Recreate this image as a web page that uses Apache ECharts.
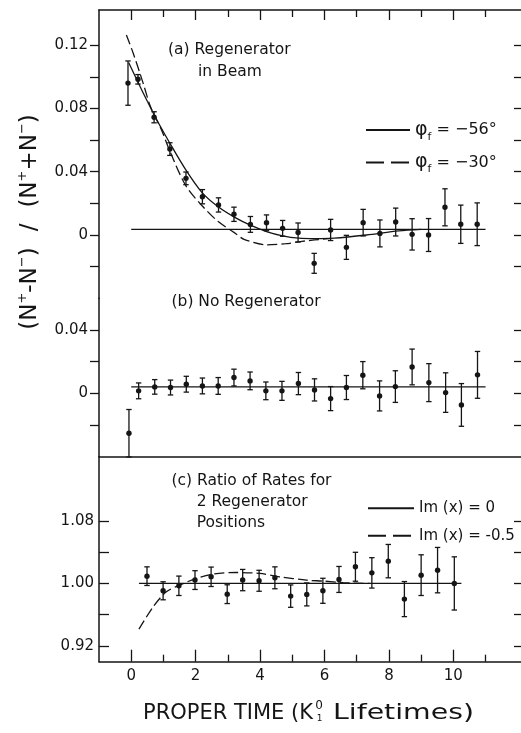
<!DOCTYPE html>
<html><head><meta charset="utf-8">
<script src="https://cdn.jsdelivr.net/npm/echarts@6/dist/echarts.min.js"></script>
<style>html,body{margin:0;padding:0;background:#fff}#c{width:521px;height:733px}</style>
</head><body><div id="c"></div>
<script>
// ---------- Panel (a): Regenerator in Beam ----------
const timeA = [-0.1,0.21,0.71,1.2,1.7,2.21,2.71,3.19,3.7,4.2,4.7,5.18,5.68,6.19,6.68,7.2,7.72,8.21,8.72,9.23,9.74,10.23,10.74];
const asymA = [0.096,0.0984,0.0744,0.0543,0.0358,0.0242,0.019,0.0131,0.0067,0.0077,0.0042,0.0016,-0.0179,0.0032,-0.0078,0.0078,0.001,0.0082,0.0004,0.0,0.0175,0.0068,0.0068];
const errA  = [0.014,0.003,0.0035,0.004,0.004,0.0045,0.0045,0.0045,0.005,0.005,0.005,0.006,0.0063,0.0067,0.0076,0.0084,0.0085,0.0088,0.0099,0.0104,0.0117,0.0121,0.0135];
const fit56T = [-0.08,0.2,0.5,0.8,1.2,1.7,2.2,2.7,3.2,3.7,4.2,4.7,5.2,5.7,6.3,7.3,8.3,9.0];
const fit56V = [0.109,0.097,0.0845,0.0725,0.058,0.041,0.0268,0.0178,0.0113,0.0062,0.0022,-0.0005,-0.002,-0.0023,-0.002,0.0,0.0026,0.0036];
const fit30T = [-0.15,0.06,0.37,0.6,0.94,1.2,1.7,2.2,2.7,3.2,3.5,4.2,4.8,5.3,6.2];
const fit30V = [0.1264,0.115,0.096,0.081,0.0664,0.053,0.031,0.0185,0.0085,0.0015,-0.0027,-0.0062,-0.0055,-0.004,-0.0021];
const baseAT = [0, 11];
const baseAV = [0.0036, 0.0036];
const legendA = ['φf = −56°', 'φf = −30°'];

// ---------- Panel (b): No Regenerator ----------
const timeB = [-0.07,0.23,0.73,1.22,1.71,2.21,2.7,3.19,3.69,4.18,4.68,5.19,5.69,6.19,6.68,7.19,7.71,8.2,8.72,9.24,9.76,10.25,10.75];
const asymB = [-0.0253,0.0015,0.004,0.0036,0.0057,0.0046,0.0046,0.0099,0.0078,0.0015,0.0015,0.0061,0.0021,-0.0034,0.0036,0.0114,-0.0017,0.0042,0.0166,0.0067,0.0004,-0.0074,0.0116];
const errB  = [0.015,0.005,0.0046,0.0047,0.005,0.005,0.0053,0.0053,0.0056,0.0056,0.006,0.007,0.007,0.0076,0.0076,0.0086,0.0095,0.01,0.0113,0.012,0.0125,0.0135,0.0148];
const baseBT = [0, 11];
const baseBV = [0.004, 0.004];

// ---------- Panel (c): Ratio of Rates for 2 Regenerator Positions ----------
const timeC  = [0.49,0.99,1.48,1.98,2.48,2.98,3.46,3.97,4.46,4.95,5.45,5.95,6.45,6.96,7.47,7.98,8.48,9.0,9.51,10.03];
const ratioC = [1.0093,0.9906,0.997,1.0043,1.0085,0.9863,1.0043,1.0034,1.0072,0.9838,0.986,0.9906,1.0051,1.0213,1.0135,1.0285,0.98,1.0106,1.017,1.0];
const errC   = [0.0119,0.0115,0.0124,0.012,0.0124,0.012,0.0136,0.0134,0.014,0.0143,0.0147,0.016,0.0166,0.0185,0.0194,0.0213,0.0224,0.026,0.029,0.034];
const baseCT = [0.24, 10.25];
const baseCV = [1.0, 1.0];
const fitC05T = [0.24,0.68,1.09,1.5,2.02,2.54,3.27,3.99,4.61,5.44,5.96,6.58,7.4];
const fitC05V = [0.9416,0.970,0.9893,0.9978,1.0064,1.0119,1.014,1.0128,1.0085,1.0042,1.003,1.001,1.0];
const legendC = ['Im (x) = 0', 'Im (x) = -0.5'];

// ---------- Axis ticks / labels ----------
const xMajor = [0,2,4,6,8,10];
const xMinor = [1,3,5,7,9,11];
const yTicksA = [-0.02,0,0.02,0.04,0.06,0.08,0.10,0.12];
const yLabelsA = [0,0.04,0.08,0.12];
const yTicksB = [-0.02,0,0.02,0.04];
const yLabelsB = [0,0.04];
const yTicksC = [0.92,0.96,1.00,1.04,1.08];
const yLabelsC = [0.92,1.00,1.08];

const INK = '#151515';
const FONT = 'DejaVu Sans';
const zip2 = (a, b) => a.map((v, i) => [v, b[i]]);
const zip3 = (a, b, c) => a.map((v, i) => [v, b[i], c[i]]);

function errRender(params, api) {
  const t = api.value(0), v = api.value(1), e = api.value(2);
  const p = api.coord([t, v]);
  const hi = api.coord([t, v + e]);
  const lo = api.coord([t, v - e]);
  const cap = 2.7;
  const st = { stroke: INK, lineWidth: 1.3 };
  return { type: 'group', children: [
    { type: 'line', shape: { x1: p[0], y1: hi[1], x2: p[0], y2: lo[1] }, style: st },
    { type: 'line', shape: { x1: p[0]-cap, y1: hi[1], x2: p[0]+cap, y2: hi[1] }, style: st },
    { type: 'line', shape: { x1: p[0]-cap, y1: lo[1], x2: p[0]+cap, y2: lo[1] }, style: st },
    { type: 'circle', shape: { cx: p[0], cy: p[1], r: 2.7 }, style: { fill: INK } }
  ]};
}

const L = 99, W = 422;
const frame = { color: INK, width: 1.5 };
function xAx(grid, pos, extra) {
  return Object.assign({
    type: 'value', gridIndex: grid, position: pos, min: -1, max: 12.1,
    splitLine: { show: false },
    axisLine: { show: false, onZero: false },
    axisTick: { show: false },
    axisLabel: { show: false }
  }, extra);
}
function yAx(grid, pos, min, max, extra) {
  return Object.assign({
    type: 'value', gridIndex: grid, position: pos, min: min, max: max,
    splitLine: { show: false },
    axisLine: { show: false, onZero: false },
    axisTick: { show: false },
    axisLabel: { show: false }
  }, extra);
}
const yFmt = v => (v === 0 ? '0' : v.toFixed(2));
const labStyle = { color: INK, fontFamily: FONT, fontSize: 15 };
const longDash = { type: [18, 7] };

const option = {
  animation: false,
  backgroundColor: '#fff',
  grid: [
    { left: L, width: W, top: 10, height: 288.3 },
    { left: L, width: W, top: 298.3, height: 158.2 },
    { left: L, width: W, top: 456.5, height: 205.2 }
  ],
  xAxis: [
    xAx(0, 'top', { axisLine: { show: true, onZero: false, lineStyle: frame },
      axisTick: { show: true, inside: true, length: 10, customValues: xMajor, lineStyle: { color: INK, width: 1.3 } } }),
    xAx(0, 'top', { axisTick: { show: true, inside: true, length: 7, customValues: xMinor, lineStyle: { color: INK, width: 1.3 } } }),
    xAx(1, 'bottom', { axisLine: { show: true, onZero: false, lineStyle: frame } }),
    xAx(2, 'bottom', { axisLine: { show: true, onZero: false, lineStyle: frame },
      axisTick: { show: true, inside: true, length: 12, customValues: xMajor, lineStyle: { color: INK, width: 1.3 } },
      axisLabel: Object.assign({ show: true, margin: 7, customValues: xMajor }, labStyle) }),
    xAx(2, 'bottom', { axisTick: { show: true, inside: true, length: 7, customValues: xMinor, lineStyle: { color: INK, width: 1.3 } } })
  ],
  yAxis: [
    yAx(0, 'left', -0.04, 0.1422, { axisLine: { show: true, onZero: false, lineStyle: frame },
      axisTick: { show: true, inside: false, length: 9, customValues: yTicksA, lineStyle: { color: INK, width: 1.3 } },
      axisLabel: Object.assign({ show: true, margin: 11, customValues: yLabelsA, formatter: yFmt }, labStyle) }),
    yAx(0, 'right', -0.04, 0.1422, { axisTick: { show: true, inside: true, length: 7, customValues: yTicksA, lineStyle: { color: INK, width: 1.3 } } }),
    yAx(1, 'left', -0.04, 0.06, { axisLine: { show: true, onZero: false, lineStyle: frame },
      axisTick: { show: true, inside: false, length: 9, customValues: yTicksB, lineStyle: { color: INK, width: 1.3 } },
      axisLabel: Object.assign({ show: true, margin: 11, customValues: yLabelsB, formatter: yFmt }, labStyle) }),
    yAx(1, 'right', -0.04, 0.06, { axisTick: { show: true, inside: true, length: 7, customValues: yTicksB, lineStyle: { color: INK, width: 1.3 } } }),
    yAx(2, 'left', 0.90, 1.1622, { axisLine: { show: true, onZero: false, lineStyle: frame },
      axisTick: { show: true, inside: true, length: 10, customValues: yTicksC, lineStyle: { color: INK, width: 1.3 } },
      axisLabel: Object.assign({ show: true, margin: 5, customValues: yLabelsC, formatter: yFmt }, labStyle) }),
    yAx(2, 'right', 0.90, 1.1622, { axisTick: { show: true, inside: true, length: 7, customValues: yTicksC, lineStyle: { color: INK, width: 1.3 } } })
  ],
  legend: [
    { data: [{ name: legendA[0] }, { name: legendA[1], lineStyle: longDash }],
      left: 360, top: 112.5, orient: 'vertical', itemWidth: 44, itemHeight: 10, itemGap: 7.5,
      selectedMode: false, itemStyle: { opacity: 0 },
      formatter: n => '{phi|φ}{sub|f}{t| ' + n.split(' ').slice(1).join(' ') + '}',
      textStyle: { color: INK, fontFamily: FONT, rich: {
        phi: { fontSize: 19, fontFamily: FONT, color: INK, lineHeight: 20 },
        sub: { fontSize: 11, fontFamily: FONT, color: INK, lineHeight: 20, padding: [14, 0, 0, 0] },
        t: { fontSize: 16, fontFamily: FONT, color: INK, lineHeight: 20 }
      } } },
    { data: [{ name: legendC[0] }, { name: legendC[1], lineStyle: longDash }],
      left: 362, top: 493.3, orient: 'vertical', itemWidth: 46, itemHeight: 10, itemGap: 7.5,
      selectedMode: false, itemStyle: { opacity: 0 },
      textStyle: { color: INK, fontFamily: FONT, fontSize: 15, lineHeight: 20 } }
  ],
  graphic: [
    { type: 'text', x: 168, y: 50, style: { text: '(a) Regenerator', fontFamily: FONT, fontSize: 15.5, fill: INK, verticalAlign: 'middle' } },
    { type: 'text', x: 198, y: 72, style: { text: 'in Beam', fontFamily: FONT, fontSize: 15.5, fill: INK, verticalAlign: 'middle' } },
    { type: 'text', x: 171.5, y: 301.7, style: { text: '(b) No Regenerator', fontFamily: FONT, fontSize: 15.5, fill: INK, verticalAlign: 'middle' } },
    { type: 'text', x: 171.5, y: 480.7, style: { text: '(c) Ratio of Rates for', fontFamily: FONT, fontSize: 15.5, fill: INK, verticalAlign: 'middle' } },
    { type: 'text', x: 196.7, y: 502.3, style: { text: '2 Regenerator', fontFamily: FONT, fontSize: 15.5, fill: INK, verticalAlign: 'middle' } },
    { type: 'text', x: 196.7, y: 523.3, style: { text: 'Positions', fontFamily: FONT, fontSize: 15.5, fill: INK, verticalAlign: 'middle' } },
    { type: 'text', x: 30, y: 222, rotation: Math.PI / 2, style: {
        text: '{p|(N}{s|+}{p|-N}{s|−}{p|)}{sl|/}{p|(N}{s|+}{p|+N}{s|−}{p|)}',
        align: 'center', verticalAlign: 'middle',
        rich: {
          p: { fontSize: 23, fontFamily: FONT, fill: INK, lineHeight: 28 },
          s: { fontSize: 13, fontFamily: FONT, fill: INK, lineHeight: 28, padding: [0, 0, 14, 0] },
          sl: { fontSize: 23, fontFamily: FONT, fill: INK, lineHeight: 28, padding: [0, 16, 0, 16] }
        } } },
    { type: 'text', x: 313, y: 714, style: { text: 'PROPER TIME (K', fontFamily: FONT, fontSize: 21, fill: INK, align: 'right', verticalAlign: 'middle' } },
    { type: 'text', x: 319, y: 706, style: { text: '0', fontFamily: FONT, fontSize: 12, fill: INK, align: 'center', verticalAlign: 'middle' } },
    { type: 'text', x: 319.5, y: 719, style: { text: '1', fontFamily: FONT, fontSize: 9, fill: INK, align: 'center', verticalAlign: 'middle' } },
    { type: 'text', x: 333, y: 714, scaleX: 1.35, style: { text: 'Lifetimes)', fontFamily: FONT, fontSize: 21, fill: INK, align: 'left', verticalAlign: 'middle' } }
  ],
  series: [
    { type: 'line', name: 'baseline a', xAxisIndex: 0, yAxisIndex: 0, data: zip2(baseAT, baseAV), symbol: 'none', lineStyle: { color: INK, width: 1.3 } },
    { type: 'line', name: legendA[0], xAxisIndex: 0, yAxisIndex: 0, data: zip2(fit56T, fit56V), symbol: 'none', smooth: 0.3, itemStyle: { color: INK }, lineStyle: { color: INK, width: 1.3 } },
    { type: 'line', name: legendA[1], xAxisIndex: 0, yAxisIndex: 0, data: zip2(fit30T, fit30V), symbol: 'none', smooth: 0.3, itemStyle: { color: INK }, lineStyle: { color: INK, width: 1.3, type: [10, 4] } },
    { type: 'custom', name: 'data a', xAxisIndex: 0, yAxisIndex: 0, data: zip3(timeA, asymA, errA), renderItem: errRender, encode: { x: 0, y: 1 } },
    { type: 'line', name: 'baseline b', xAxisIndex: 2, yAxisIndex: 2, data: zip2(baseBT, baseBV), symbol: 'none', lineStyle: { color: INK, width: 1.3 } },
    { type: 'custom', name: 'data b', xAxisIndex: 2, yAxisIndex: 2, data: zip3(timeB, asymB, errB), renderItem: errRender, encode: { x: 0, y: 1 } },
    { type: 'line', name: legendC[0], xAxisIndex: 3, yAxisIndex: 4, data: zip2(baseCT, baseCV), symbol: 'none', itemStyle: { color: INK }, lineStyle: { color: INK, width: 1.3 } },
    { type: 'line', name: legendC[1], xAxisIndex: 3, yAxisIndex: 4, data: zip2(fitC05T, fitC05V), symbol: 'none', smooth: 0.3, itemStyle: { color: INK }, lineStyle: { color: INK, width: 1.3, type: [10, 4] } },
    { type: 'custom', name: 'data c', xAxisIndex: 3, yAxisIndex: 4, data: zip3(timeC, ratioC, errC), renderItem: errRender, encode: { x: 0, y: 1 } }
  ]
};
const chart = echarts.init(document.getElementById('c'), null, { renderer: 'canvas' });
chart.setOption(option);
</script>
</body></html>
